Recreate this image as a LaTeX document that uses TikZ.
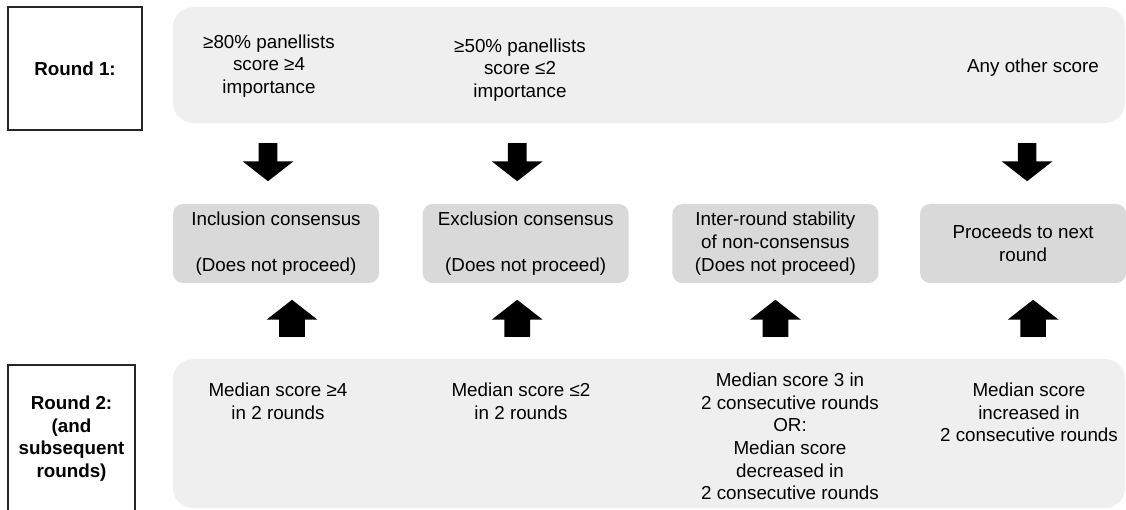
\documentclass[tikz,border=0pt]{standalone}
\usepackage{fontspec}
\setmainfont{Liberation Sans}
\usetikzlibrary{positioning, shapes.arrows}
\definecolor{panelgrey}{HTML}{efefef}
\definecolor{outcomegrey}{HTML}{d9d9d9}

\begin{document}
\begin{tikzpicture}[
      font=\fontsize{10.7}{12.9}\selectfont,
      roundlbl/.style={rectangle, draw=black!85, line width=0.6pt,
                       align=center, font=\fontsize{10.7}{12.9}\selectfont\bfseries},
      panel/.style={rectangle, rounded corners=0.4cm, fill=panelgrey,
                    minimum width=19.04cm},
      outcome/.style={rectangle, rounded corners=0.2cm, fill=outcomegrey,
                      minimum width=4.12cm, minimum height=1.58cm, align=center},
      crit/.style={align=center, inner sep=0pt},
      downarr/.style={single arrow, fill=black, inner sep=0.18cm,
                      minimum height=0.76cm, single arrow head extend=0.32cm,
                      single arrow tip angle=104, shape border rotate=270},
      uparr/.style={single arrow, fill=black, inner sep=0.25cm,
                    minimum height=0.74cm, single arrow head extend=0.25cm,
                    single arrow tip angle=104, shape border rotate=90},
    ]
      \useasboundingbox (0,0) rectangle (22.52,-10.2);

      % round 1
      \node[roundlbl, minimum width=2.68cm, minimum height=2.46cm] (r1) at (1.5,-1.37) {Round 1:};
      \node[panel, minimum height=2.32cm] (top) at (12.98,-1.3) {};
      \node[crit] (c80) at (5.38,-1.32) {≥80\% panellists\\score ≥4\\importance};
      \node[crit] (c50) at (10.4,-1.4) {≥50\% panellists\\score ≤2\\importance};
      \node[crit] (cany) at (20.66,-1.36) {Any other score};

      % outcomes
      \node[outcome] (incl) at (5.52,-4.87) {Inclusion consensus\\[12.9pt](Does not proceed)};
      \node[outcome, right=0.86cm of incl] (excl) {Exclusion consensus\\[12.9pt](Does not proceed)};
      \node[outcome, right=0.86cm of excl] (stab) {Inter-round stability\\of non-consensus\\(Does not proceed)};
      \node[outcome, right=0.82cm of stab] (proc) {Proceeds to next\\round};

      \node[downarr, above=0.44cm of incl, xshift=-0.16cm] (d1) {};
      \node[downarr, above=0.44cm of excl, xshift=-0.17cm] (d2) {};
      \node[downarr, above=0.44cm of proc, xshift=0.08cm] (d4) {};
      \node[uparr, below=0.32cm of incl, xshift=0.32cm] (u1) {};
      \node[uparr, below=0.32cm of excl, xshift=-0.17cm] (u2) {};
      \node[uparr, below=0.32cm of stab] (u3) {};
      \node[uparr, below=0.32cm of proc, xshift=0.2cm] (u4) {};

      % round 2
      \node[roundlbl, minimum width=2.54cm, minimum height=2.94cm] (r2) at (1.43,-8.77)
            {Round 2:\\(and\\subsequent\\rounds)};
      \node[panel, minimum height=2.98cm] (bot) at (12.98,-8.67) {};
      \node[crit] (m4) at (5.56,-8.03) {Median score ≥4\\in 2 rounds};
      \node[crit] (m2) at (10.42,-8.03) {Median score ≤2\\in 2 rounds};
      \node[crit] (m3) at (15.8,-8.73) {Median score 3 in\\2 consecutive rounds\\OR:\\Median score\\decreased in\\2 consecutive rounds};
      \node[crit] (minc) at (20.58,-8.25) {Median score\\increased in\\2 consecutive rounds};
    \end{tikzpicture}
\end{document}
